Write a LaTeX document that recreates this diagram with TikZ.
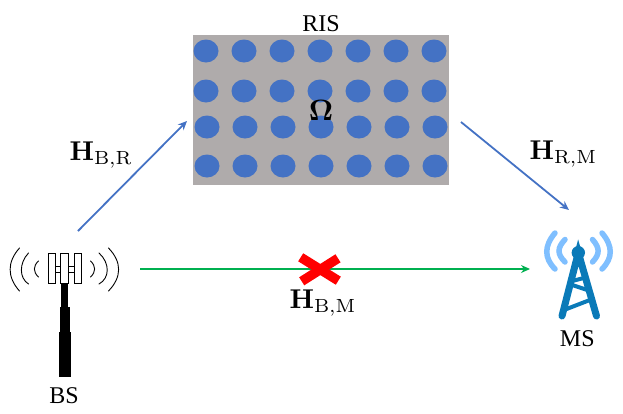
\documentclass[tikz,border=0pt]{standalone}
\usepackage[no-math]{fontspec}
\usetikzlibrary{arrows.meta}
\newfontfamily\namefont{Liberation Serif}
\definecolor{panelgray}{HTML}{AFABAB}
\definecolor{cellblue}{HTML}{4472C4}
\definecolor{linkgreen}{HTML}{00B050}
\definecolor{towerblue}{HTML}{0A7AB8}
\definecolor{waveblue}{HTML}{7FBFFF}
\begin{document}
\begin{tikzpicture}[
        x=1pt, y=-1pt,
        tag/.style={inner sep=0pt, font=\namefont\fontsize{24}{28}\selectfont},
        channel/.style={inner sep=0pt, anchor=base west, scale=2.72},
        link/.style={-{Stealth[length=9pt,width=8pt]}, line width=1.8pt, cellblue},
        cell/.style={fill=cellblue},
        wave/.style={line width=0.9pt, line cap=round},
        msleg/.style={line width=7pt, line cap=round, towerblue},
        msbar/.style={line width=4pt, towerblue},
        mswave/.style={line width=5.5pt, line cap=round, waveblue},
        antenna/.style={draw, line width=0.9pt, fill=white}
    ]
        \useasboundingbox (0,0) rectangle (623,413);

        % RIS panel
        \node[fill=panelgray, inner sep=0pt, minimum width=256pt, minimum height=150pt] (panel) at (321,110) {};
        \foreach \y in {51,91} \foreach \x in {206,244,282,320,358,396,434}
            \fill[cell] (\x,\y) ellipse (12.5 and 11.5);
        \foreach \y in {127,166} \foreach \x in {207,245,283,321,359,397,435}
            \fill[cell] (\x,\y) ellipse (12.5 and 11.5);
        \node[tag] (ristext) at (321,24) {RIS};
        \node[channel, anchor=base, scale=1.08] (omega) at (321,120) {$\mathbf{\Omega}$};

        % base station
        \fill (61,283) rectangle (68,307);
        \fill (60,307) rectangle (70,332);
        \fill (59.3,332) rectangle (70.7,377);
        \draw[antenna] (55,266) rectangle (75,272);
        \draw[antenna] (48.7,253.5) rectangle (55.7,283);
        \draw[antenna] (60.3,253.5) rectangle (68.3,283);
        \draw[antenna] (74,253.5) rectangle (81,283);
        \draw[wave] (19.5,248) .. controls (7,262) and (7,277) .. (19.5,291);
        \draw[wave] (28.5,253) .. controls (19,263) and (19,278) .. (28.5,284);
        \draw[wave] (38.5,261) .. controls (33,266) and (33,272) .. (38.5,277);
        \draw[wave] (108.5,248) .. controls (122,262) and (122,277) .. (108.5,291);
        \draw[wave] (99,253) .. controls (110,263) and (110,278) .. (99,284);
        \draw[wave] (90.5,261) .. controls (96,266) and (96,272) .. (90.5,277);
        \node[tag] (bstext) at (64,395.5) {BS};

        % mobile station
        \draw[mswave] (555,233) .. controls (544,246) and (544,258) .. (555,269);
        \draw[mswave] (565,239.5) .. controls (557,248) and (557,254) .. (565,262);
        \draw[mswave] (602,233) .. controls (613,246) and (613,258) .. (602,269);
        \draw[mswave] (592.5,239.5) .. controls (600,248) and (600,254) .. (592.5,262);
        \draw[msleg] (562,316) -- (578.3,252.7) -- (596.5,316);
        \draw[msbar] (573.3,280.7) -- (585,277.7);
        \draw[msbar] (572.3,285) -- (587.3,290);
        \draw[msbar] (564,310) -- (591.7,299.3);
        \fill[towerblue] (578.3,252.7) circle (6.7);
        \node[tag] (mstext) at (577.3,338.3) {MS};

        % channels
        \coordinate (bsup) at (78,231);
        \coordinate (risin) at (187,121);
        \coordinate (risout) at (461,122);
        \coordinate (msin) at (569,210);
        \coordinate (bsout) at (140,269);
        \coordinate (msdirect) at (530,269);
        \draw[link] (bsup) -- (risin);
        \draw[link] (risout) -- (msin);
        \draw[link, linkgreen, line width=1.2pt] (bsout) -- (msdirect);
        \draw[red, line width=9.5pt] (300.7,257.3) -- (338.3,280.7);
        \draw[red, line width=9.5pt] (338,258.3) -- (301.7,281.3);

        \node[channel] (hbr) at (69,160) {$\mathbf{H}_{\mathrm{B,R}}$};
        \node[channel] (hrm) at (529,159) {$\mathbf{H}_{\mathrm{R,M}}$};
        \node[channel] (hbm) at (289,308) {$\mathbf{H}_{\mathrm{B,M}}$};
    \end{tikzpicture}
\end{document}
